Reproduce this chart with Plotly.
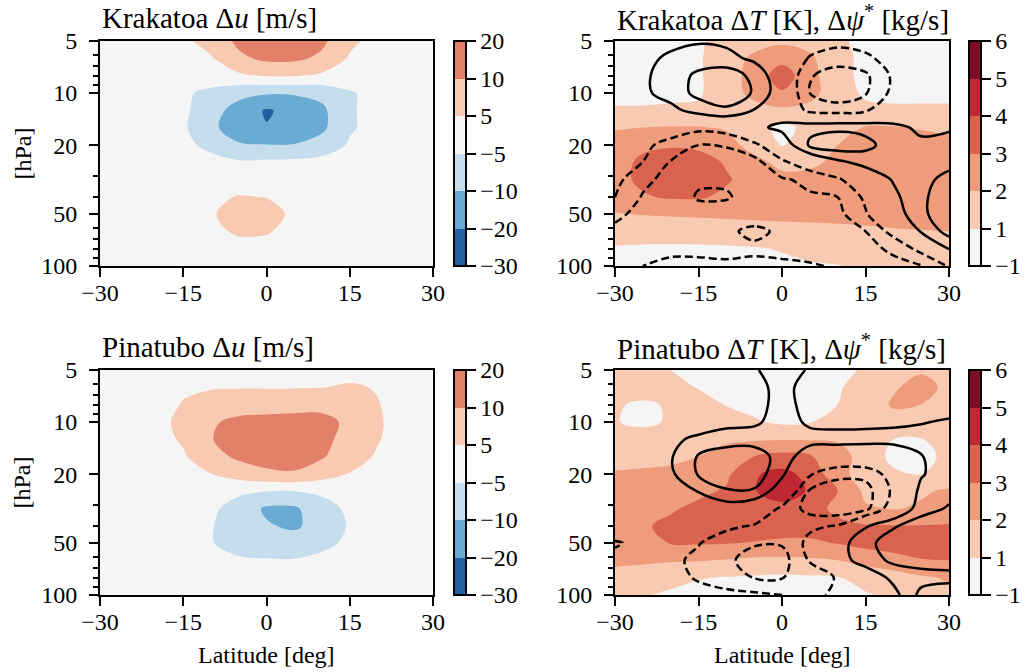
import numpy as np
import plotly.graph_objects as go

# ---------------- data ----------------
lat = [-30, -25, -20, -15, -10, -5, 0, 5, 10, 15, 20, 25, 30]
pres = [5, 6.3, 7.9, 10, 12.6, 15.8, 20, 25, 31.6, 40, 50, 63, 79, 100]

u_levels = [-30, -20, -10, -5, 5, 10, 20]
u_ticktext = ["\u221230", "\u221220", "\u221210", "\u22125", "5", "10", "20"]
T_levels = [-1, 1, 2, 3, 4, 5, 6]
T_ticktext = ["\u22121", "1", "2", "3", "4", "5", "6"]

u_colors = ["#2161a2", "#6aabd3", "#c5ddec", "#f5f5f5", "#f9cab2", "#e3806a"]
T_colors = ["#f5f5f5", "#f9cab2", "#ef9c7c", "#d9634f", "#bd2833", "#7f0c26"]

lat_ticks = [-30, -15, 0, 15, 30]
lat_ticktext = ["\u221230", "\u221215", "0", "15", "30"]
p_ticks = [5, 10, 20, 50, 100]
p_minor = [6, 7, 8, 9, 30, 40, 60, 70, 80, 90]

# Krakatoa zonal wind anomaly [m/s]  (rows = pres, cols = lat)
krakatoa_u = [
    [0, 0, 1, 3, 7, 12, 16, 17, 12, 6, 2, 0, 0],
    [0, 0, 0.5, 2, 4, 9, 12, 12, 9, 4, 1, 0, 0],
    [0, 0, 0, 1, 2, 3.5, 5.5, 5.5, 3.5, 1.5, 0, 0, 0],
    [0, 0, -1, -3, -6.5, -8.5, -9.5, -9.5, -8.5, -5.5, -2, 0, 0],
    [0, 0, -1, -3, -8, -14, -21, -17, -12, -5.5, -2, 0, 0],
    [0, 0, -1, -3.5, -9, -15, -19.5, -16, -12, -5.5, -2, 0, 0],
    [0, 0, -1, -3, -6, -9.5, -9.8, -9.8, -8, -4, -1, 0, 0],
    [0, 0, 0, -1, -2.5, -4, -3.5, -3, -2, -1, 0, 0, 0],
    [0, 0, 0, 0, 0, 0, 0, 0, 0, 0, 0, 0, 0],
    [0, 0, 0, 1, 3, 5.3, 4.8, 2, 0, 0, 0, 0, 0],
    [0, 0, 0, 1.5, 4, 7, 6.5, 3.5, 1, 0, 0, 0, 0],
    [0, 0, 0, 1, 3, 5.6, 5.4, 2, 0, 0, 0, 0, 0],
    [0, 0, 0, 0, 1, 2, 2, 1, 0, 0, 0, 0, 0],
    [0, 0, 0, 0, 0, 0, 0, 0, 0, 0, 0, 0, 0],
]

# Pinatubo zonal wind anomaly [m/s]
pinatubo_u = [
    [0, 0, 0, 1, 2, 2, 2, 2, 2, 2, 1, 0, 0],
    [0, 0, 0, 4, 4.3, 4.5, 4.5, 4.5, 4.8, 5.5, 4.5, 1, 0],
    [0, 0, 2, 5.2, 7, 8, 8, 8.5, 8.5, 8, 5.2, 1.5, 0],
    [0, 0, 2.5, 6, 9.5, 12, 13, 13, 13, 9, 5.5, 1.5, 0],
    [0, 0, 2, 5.5, 9.8, 14, 15, 15, 13, 8, 5.3, 1, 0],
    [0, 0, 1, 4, 8, 12, 14, 14, 11, 7, 4, 0.5, 0],
    [0, 0, 0, 2, 4.8, 7, 9, 9.5, 7, 4.5, 2, 0, 0],
    [0, 0, 0, 0, -1, -3, -4.5, -4.8, -3, -1, 0, 0, 0],
    [0, 0, 0, 0, -3, -7, -11.5, -11.5, -7, -3, 0, 0, 0],
    [0, 0, 0, 0, -4.5, -7, -9.5, -11.5, -8, -4, 0, 0, 0],
    [0, 0, 0, 0, -4.6, -6.5, -7, -7.5, -6, -3.5, 0, 0, 0],
    [0, 0, 0, 0, -2, -4, -4.5, -4.5, -3, -1, 0, 0, 0],
    [0, 0, 0, 0, 0, -1.5, -2, -2, -1, 0, 0, 0, 0],
    [0, 0, 0, 0, 0, 0, 0, 0, 0, 0, 0, 0, 0],
]

# Krakatoa temperature anomaly [K]
krakatoa_T = [
    [0.5, 0.5, 0.6, 0.8, 1.3, 1.6, 1.8, 1.6, 1.1, 0.7, 0.5, 0.5, 0.5],
    [0.5, 0.5, 0.6, 0.8, 1.5, 2.2, 2.7, 2.2, 1.2, 0.7, 0.6, 0.6, 0.6],
    [0.5, 0.5, 0.6, 0.8, 1.5, 2.4, 3.5, 2.4, 1.2, 0.7, 0.6, 0.6, 0.6],
    [0.5, 0.5, 0.6, 0.8, 1.5, 2.3, 2.9, 2.4, 1.3, 0.8, 0.7, 0.7, 0.7],
    [1.1, 1.1, 1.15, 1.15, 1.3, 1.6, 1.8, 1.6, 1.3, 1.15, 1.1, 1.1, 1.1],
    [1.9, 2.0, 2.05, 2.05, 1.9, 1.3, 0.6, 1.2, 1.7, 2.05, 2.05, 1.95, 1.8],
    [2.5, 2.8, 2.9, 2.8, 2.4, 1.6, 0.9, 1.4, 2.0, 2.3, 2.3, 2.3, 2.3],
    [2.6, 3.2, 3.5, 3.4, 2.9, 2.3, 1.7, 1.8, 2.2, 2.4, 2.5, 2.5, 2.5],
    [2.7, 3.2, 3.6, 3.6, 3.1, 2.6, 2.3, 2.3, 2.5, 2.6, 2.6, 2.8, 2.8],
    [2.5, 2.9, 3.1, 3.1, 2.8, 2.6, 2.5, 2.5, 2.5, 2.5, 2.5, 2.6, 2.6],
    [1.95, 2.05, 2.1, 2.15, 2.2, 2.25, 2.3, 2.35, 2.4, 2.4, 2.45, 2.5, 2.5],
    [1.3, 1.35, 1.4, 1.45, 1.5, 1.55, 1.6, 1.65, 1.7, 1.8, 1.9, 1.95, 2.0],
    [0.9, 0.8, 0.75, 0.75, 0.8, 0.9, 1.05, 1.2, 1.3, 1.4, 1.5, 1.5, 1.5],
    [0.6, 0.5, 0.5, 0.5, 0.5, 0.6, 0.7, 0.85, 0.95, 1.1, 1.2, 1.3, 1.3],
]

# Pinatubo temperature anomaly [K]
pinatubo_T = [
    [1.5, 1.4, 1.0, 0.5, 0.3, 0.2, 0.2, 0.3, 0.5, 1.1, 1.5, 1.9, 1.6],
    [1.6, 1.5, 1.3, 0.9, 0.5, 0.3, 0.3, 0.4, 0.8, 1.4, 1.9, 2.3, 1.8],
    [1.1, 0.7, 1.1, 1.4, 0.9, 0.5, 0.4, 0.6, 1.0, 1.5, 2.1, 2.0, 1.6],
    [1.05, 0.6, 1.1, 1.5, 1.5, 1.1, 0.7, 0.9, 1.4, 1.6, 1.7, 1.7, 1.6],
    [1.6, 1.5, 1.6, 1.7, 1.8, 1.9, 1.95, 1.95, 1.9, 1.6, 1.0, 0.95, 1.2],
    [1.6, 1.7, 1.8, 2.0, 2.5, 3.0, 3.3, 3.1, 2.4, 1.6, 0.5, 0.5, 1.2],
    [2.1, 2.15, 2.2, 2.4, 2.8, 3.9, 4.3, 3.7, 2.3, 1.6, 1.15, 1.0, 1.4],
    [2.2, 2.3, 2.5, 2.8, 3.1, 3.95, 4.5, 3.9, 3.0, 1.8, 1.7, 1.9, 2.1],
    [2.3, 2.5, 2.9, 3.2, 3.4, 3.6, 3.7, 3.5, 2.7, 2.1, 1.95, 2.1, 2.3],
    [2.5, 2.9, 3.2, 3.4, 3.5, 3.5, 3.5, 3.4, 3.3, 3.1, 3.05, 3.05, 3.1],
    [2.4, 2.6, 3.05, 3.1, 3.05, 2.95, 2.8, 2.85, 3.05, 3.3, 3.4, 3.5, 3.4],
    [2.3, 2.2, 2.1, 2.05, 1.95, 1.8, 1.8, 1.85, 2.0, 2.4, 2.7, 2.95, 3.0],
    [1.5, 1.4, 1.2, 1.05, 0.95, 0.8, 0.7, 0.8, 0.95, 1.2, 1.5, 1.9, 2.1],
    [1.2, 1.05, 0.8, 0.5, 0.4, 0.4, 0.4, 0.5, 0.7, 0.9, 1.1, 1.6, 1.8],
]

# Residual streamfunction anomaly (scaled units; contours at +-1, +-2)
krakatoa_psi = [
    [0, 0.3, 0.7, 0.9, 0.8, 0.5, 0, -0.4, -0.7, -0.6, -0.3, -0.1, 0],
    [0.2, 0.7, 1.2, 1.5, 1.3, 0.8, 0.1, -1.1, -1.5, -1.2, -0.6, -0.2, 0],
    [0.3, 0.8, 1.5, 2.2, 2.6, 1.7, 0.2, -1.9, -2.5, -2.2, -0.8, -0.3, 0],
    [0.3, 0.8, 1.4, 2.3, 2.7, 1.9, 0.3, -2.0, -2.6, -2.1, -0.7, -0.2, 0],
    [0.1, 0.3, 0.7, 1.4, 1.8, 0.95, 0.2, -1.3, -1.5, -1.1, -0.4, -0.1, 0],
    [0, -0.2, -0.5, -0.7, -0.5, 0.7, 1.3, 1.7, 1.8, 1.7, 1.4, 0.7, 0.9],
    [-0.3, -0.8, -1.3, -2.0, -1.9, -1.3, 0.2, 2.2, 2.6, 2.3, 1.5, 1.3, 1.3],
    [-0.6, -1.0, -2.05, -2.6, -2.6, -2.3, -1.2, -0.2, 0.8, 1.4, 1.6, 1.7, 1.8],
    [-0.7, -1.7, -2.4, -2.15, -2.15, -2.5, -2.1, -1.8, -1.2, 0.1, 1.1, 1.8, 2.2],
    [-1.0, -2.1, -2.6, -1.9, -1.9, -2.4, -2.5, -2.1, -2.0, -0.8, 0.7, 1.9, 2.3],
    [-1.7, -2.4, -2.6, -2.4, -2.5, -2.6, -2.6, -2.5, -2.3, -1.1, 0.3, 1.9, 2.3],
    [-2.3, -2.5, -2.6, -2.6, -2.2, -1.75, -2.2, -2.6, -2.6, -2.0, -0.6, 1.1, 2.4],
    [-2.3, -2.4, -2.3, -2.3, -2.4, -2.2, -2.3, -2.4, -2.5, -2.3, -1.8, -0.6, 1.1],
    [-2.2, -2.0, -1.7, -1.7, -1.75, -1.75, -1.8, -1.9, -2.1, -2.5, -2.3, -2.1, -0.9],
]

pinatubo_psi = [
    [0.2, 0.3, 0.4, 0.5, 0.6, 0.9, 1.5, 0.9, 0.5, 0.3, 0.2, 0.2, 0.2],
    [0.2, 0.3, 0.4, 0.5, 0.5, 0.6, 1.4, 0.5, 0.5, 0.4, 0.3, 0.3, 0.3],
    [0.2, 0.3, 0.4, 0.5, 0.5, 0.6, 1.4, 0.6, 0.6, 0.5, 0.5, 0.5, 0.6],
    [0.3, 0.4, 0.5, 0.6, 0.7, 0.8, 1.5, 0.8, 0.7, 0.8, 0.85, 0.95, 1.1],
    [0.4, 0.6, 0.85, 1.15, 1.5, 1.6, 1.6, 1.4, 1.4, 1.3, 1.3, 1.35, 1.4],
    [0.3, 0.6, 0.9, 2.1, 2.6, 2.5, 1.6, 0.3, 0.1, 0.2, 0.3, 0.95, 1.5],
    [0.2, 0.5, 0.8, 2.1, 2.7, 2.6, 1.2, -0.9, -1.7, -1.7, -0.5, 0.9, 1.6],
    [0.1, 0.3, 0.6, 1.05, 1.9, 1.9, 0.3, -2.1, -2.6, -2.4, -0.8, 1.3, 1.7],
    [0.1, 0.2, 0.2, 0.3, 0.4, 0.0, -1.2, -2.4, -2.7, -2.3, -0.3, 1.6, 2.1],
    [0.2, 0.1, -0.2, -0.5, -0.8, -1.1, -1.6, -1.2, -0.9, 0.9, 1.9, 2.5, 2.6],
    [-1.15, -0.6, -0.7, -0.95, -1.5, -1.9, -1.9, -0.7, 0.5, 1.7, 2.5, 2.7, 2.6],
    [-0.6, -0.5, -0.8, -1.2, -1.8, -2.4, -2.4, -0.9, 0.5, 1.5, 2.2, 2.4, 2.3],
    [-0.3, -0.4, -0.7, -1.1, -1.6, -2.05, -2.05, -1.6, -0.9, 0.2, 1.3, 1.6, 1.8],
    [-0.2, -0.3, -0.5, -0.7, -0.7, -0.8, -1.0, -1.4, -0.7, -0.2, 0.6, 2.3, 2.4],
]

# ---------------- styling ----------------
W, H = 1032, 672
FONT = "Liberation Serif"
TICK_SIZE = 24
TITLE_SIZE = 29


def px_x(p):
    return p / W


def px_y(p):
    return 1 - p / H


def step_scale(colors):
    n = len(colors)
    cs = []
    for k, c in enumerate(colors):
        cs.append([k / n, c])
        cs.append([(k + 1) / n, c])
    return cs


def level_index(field, levels):
    # map values onto evenly spaced level indices (uniform-spaced colorbar)
    return np.interp(np.array(field, dtype=float), levels, np.arange(len(levels)))


panels = [
    ("x", "y", 100, 433, 41, 266, krakatoa_u, u_levels, u_colors, u_ticktext, None,
     "Krakatoa \u0394<i>u</i> [m/s]", 454),
    ("x2", "y2", 615, 949, 41, 266, krakatoa_T, T_levels, T_colors, T_ticktext, krakatoa_psi,
     "Krakatoa \u0394<i>T</i> [K], \u0394<i>\u03c8</i><sup>*</sup> [kg/s]", 969),
    ("x3", "y3", 100, 433, 370, 595, pinatubo_u, u_levels, u_colors, u_ticktext, None,
     "Pinatubo \u0394<i>u</i> [m/s]", 454),
    ("x4", "y4", 615, 949, 370, 595, pinatubo_T, T_levels, T_colors, T_ticktext, pinatubo_psi,
     "Pinatubo \u0394<i>T</i> [K], \u0394<i>\u03c8</i><sup>*</sup> [kg/s]", 969),
]

fig = go.Figure()
layout = dict(
    template="none",
    width=W, height=H,
    margin=dict(l=0, r=0, t=0, b=0, autoexpand=False),
    paper_bgcolor="white", plot_bgcolor="white",
    font=dict(family=FONT, size=TICK_SIZE, color="black"),
    showlegend=False,
    annotations=[],
)

for (xa, ya, x0, x1, y0, y1, field, levels, colors, ticktext, psi, title, cbx) in panels:
    z = level_index(field, levels)
    fig.add_trace(go.Contour(
        x=lat, y=pres, z=z, xaxis=xa, yaxis=ya,
        zmin=0, zmax=len(levels) - 1, autocontour=False,
        contours=dict(start=0, end=len(levels) - 1, size=1, coloring="fill", showlines=False),
        line=dict(width=0, smoothing=1.0),
        colorscale=step_scale(colors),
        hoverinfo="skip",
        colorbar=dict(
            x=px_x(cbx), xanchor="left", y=px_y(y1), yanchor="bottom",
            len=(y1 - y0) / H, lenmode="fraction",
            thickness=12, thicknessmode="pixels", xpad=0, ypad=0,
            outlinewidth=2, outlinecolor="black",
            tickmode="array", tickvals=list(range(len(levels))), ticktext=ticktext,
            ticks="outside", ticklen=9, tickwidth=2, tickcolor="black",
            tickfont=dict(family=FONT, size=TICK_SIZE, color="black"),
        ),
    ))
    if psi is not None:
        fig.add_trace(go.Contour(
            x=lat, y=pres, z=psi, xaxis=xa, yaxis=ya, autocontour=False,
            contours=dict(start=1, end=2, size=1, coloring="none"),
            line=dict(color="black", width=2.5, dash="solid", smoothing=1.0),
            showscale=False, hoverinfo="skip",
        ))
        fig.add_trace(go.Contour(
            x=lat, y=pres, z=psi, xaxis=xa, yaxis=ya, autocontour=False,
            contours=dict(start=-2, end=-1, size=1, coloring="none"),
            line=dict(color="black", width=2.5, dash="8px,4px", smoothing=1.0),
            showscale=False, hoverinfo="skip",
        ))

    xkey = "xaxis" + xa[1:]
    ykey = "yaxis" + ya[1:]
    layout[xkey] = dict(
        domain=[px_x(x0), px_x(x1)], anchor=ya, range=[-30, 30], automargin=False,
        tickmode="array", tickvals=lat_ticks, ticktext=lat_ticktext,
        ticks="outside", ticklen=9, tickwidth=2, tickcolor="black",
        showline=True, linewidth=2, linecolor="black", mirror=True,
        showgrid=False, zeroline=False, ticklabelstandoff=-5,
        tickfont=dict(family=FONT, size=TICK_SIZE, color="black"),
    )
    layout[ykey] = dict(
        domain=[px_y(y1), px_y(y0)], anchor=xa, type="log", automargin=False,
        range=[np.log10(100), np.log10(5)],
        tickmode="array", tickvals=p_ticks, ticktext=[str(v) for v in p_ticks],
        ticks="outside", ticklen=9, tickwidth=2, tickcolor="black",
        minor=dict(tickmode="array", tickvals=p_minor, ticks="outside", ticklen=5,
                   tickwidth=1.5, tickcolor="black", showgrid=False),
        showline=True, linewidth=2, linecolor="black", mirror=True,
        showgrid=False, zeroline=False, ticklabelstandoff=7,
        tickfont=dict(family=FONT, size=TICK_SIZE, color="black"),
    )
    layout["annotations"].append(dict(
        text=title, x=px_x(x0), y=px_y(y0 - 23), xref="paper", yref="paper",
        xanchor="left", yanchor="middle", showarrow=False,
        font=dict(family=FONT, size=TITLE_SIZE, color="black"),
    ))

for yc in [(41 + 266) / 2, (370 + 595) / 2]:
    layout["annotations"].append(dict(
        text="[hPa]", x=px_x(22), y=px_y(yc), xref="paper", yref="paper",
        xanchor="center", yanchor="middle", textangle=-90, showarrow=False,
        font=dict(family=FONT, size=TICK_SIZE, color="black"),
    ))
for xc in [(100 + 433) / 2, (615 + 949) / 2]:
    layout["annotations"].append(dict(
        text="Latitude [deg]", x=px_x(xc), y=px_y(655), xref="paper", yref="paper",
        xanchor="center", yanchor="middle", showarrow=False,
        font=dict(family=FONT, size=TICK_SIZE, color="black"),
    ))

fig.update_layout(**layout)
# remove the browser's default 8px page margin so the figure fills the window exactly
fig.write_html("out.html", config={"displayModeBar": False},
               post_script="document.body.style.margin='0px';")
